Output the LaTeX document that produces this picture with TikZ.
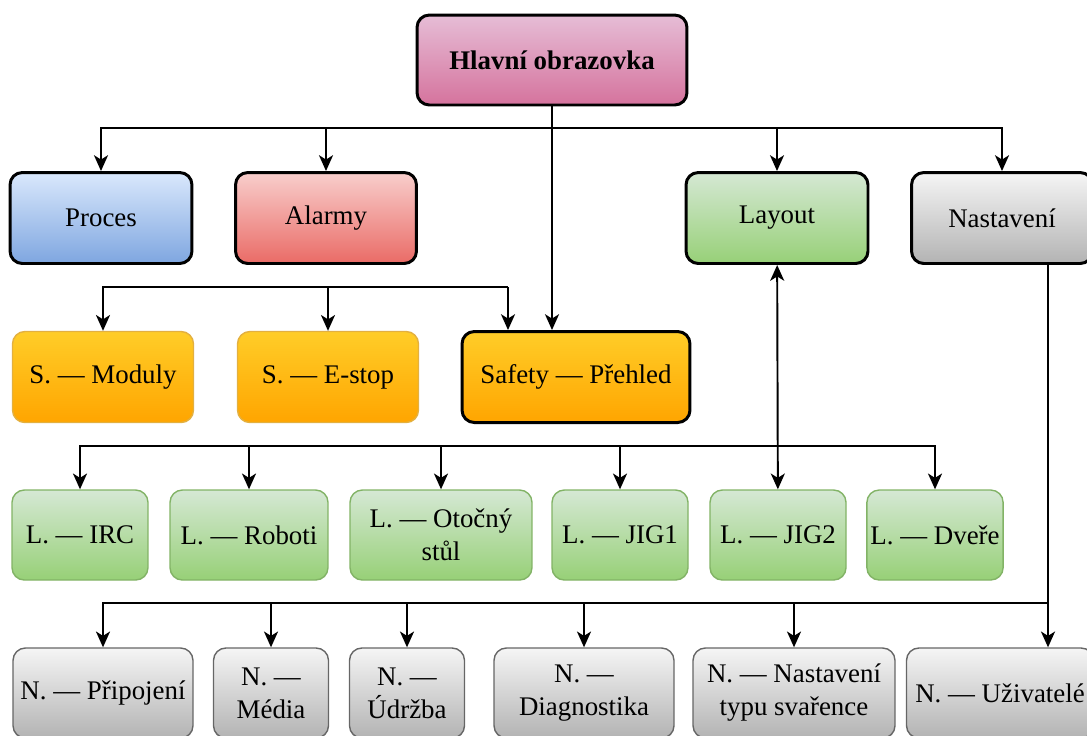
\documentclass[tikz,border=0pt]{standalone}
\usepackage{fontspec}
\setmainfont{Liberation Serif}
\usepackage{xcolor}
\usepackage{tikz}
\usetikzlibrary{arrows.meta,positioning}

\definecolor{pinkT}{HTML}{E6BDD6}
\definecolor{pinkB}{HTML}{D5739D}
\definecolor{blueT}{HTML}{DAE8FC}
\definecolor{blueB}{HTML}{7EA6E0}
\definecolor{redT}{HTML}{F8CECC}
\definecolor{redB}{HTML}{EA6B66}
\definecolor{greenT}{HTML}{D5E8D4}
\definecolor{greenB}{HTML}{97D077}
\definecolor{greenD}{HTML}{82B366}
\definecolor{grayT}{HTML}{F5F5F5}
\definecolor{grayB}{HTML}{B3B3B3}
\definecolor{grayD}{HTML}{666666}
\definecolor{orT}{HTML}{FFCD28}
\definecolor{orB}{HTML}{FFA500}
\definecolor{orD}{HTML}{E3B040}

\begin{document}
\begin{tikzpicture}[
  x=0.02cm, y=-0.02cm,
  font=\fontsize{15.3}{18.8}\selectfont,
  >={Stealth[length=9pt,width=8pt,inset=2.5pt]},
  box/.style={rectangle,rounded corners=7pt,align=center,inner sep=2pt,
    minimum height=1.8cm},
  thickbox/.style={box,draw=black,line width=1.7pt},
  mainbox/.style={thickbox,top color=pinkT,bottom color=pinkB,font=\fontsize{15.3}{18.8}\selectfont\bfseries},
  procbox/.style={thickbox,top color=blueT,bottom color=blueB},
  alarmbox/.style={thickbox,top color=redT,bottom color=redB},
  laybox/.style={box,draw=greenD,line width=0.8pt,top color=greenT,bottom color=greenB},
  setbox/.style={box,draw=grayD,line width=0.8pt,top color=grayT,bottom color=grayB},
  safebox/.style={box,draw=orD,line width=0.8pt,top color=orT,bottom color=orB},
  link/.style={->,line width=1.1pt},
]
\clip (0,0) rectangle (1087,735);

% hlavni obrazovka
\node [mainbox,minimum width=5.4cm] (main) at (552,60) {Hlavní obrazovka};

% prvni uroven
\node [procbox,minimum width=3.64cm,minimum height=1.82cm] (proc) at (101,218) {Proces};
\node [alarmbox,minimum width=3.62cm,minimum height=1.82cm] (alarm) at (326,218) {Alarmy};
\node [thickbox,top color=greenT,bottom color=greenB,minimum width=3.64cm,minimum height=1.82cm] (layout) at (777,218) {Layout};
\node [thickbox,top color=grayT,bottom color=grayB,minimum width=3.62cm,minimum height=1.82cm] (nast) at (1002,218) {Nastavení};

% safety
\node [safebox,minimum width=3.62cm,minimum height=1.82cm] (moduly) at (103,377) {S. — Moduly};
\node [safebox,minimum width=3.62cm,minimum height=1.82cm] (estop) at (328,377) {S. — E-stop};
\node [safebox,draw=black,line width=1.7pt,minimum width=4.56cm,minimum height=1.82cm] (safety) at (576,377) {Safety — Přehled};

% layout
\node [laybox,minimum width=2.72cm] (irc) at (80,535) {L. — IRC};
\node [laybox,minimum width=3.16cm] (roboti) at (249,535) {L. — Roboti};
\node [laybox,minimum width=3.64cm] (stul) at (441,535) {L. — Otočný\\stůl};
\node [laybox,minimum width=2.72cm] (jig1) at (620,535) {L. — JIG1};
\node [laybox,minimum width=2.72cm] (jig2) at (778,535) {L. — JIG2};
\node [laybox,minimum width=2.72cm] (dvere) at (935,535) {L. — Dveře};

% nastaveni
\node [setbox,minimum width=3.6cm] (pripoj) at (103,693) {N. — Připojení};
\node [setbox,minimum width=2.3cm] (media) at (271,693) {N. —\\Média};
\node [setbox,minimum width=2.3cm] (udrzba) at (407,693) {N. —\\Údržba};
\node [setbox,minimum width=3.6cm] (diag) at (584,693) {N. —\\Diagnostika};
\node [setbox,minimum width=4.04cm] (typ) at (794,693) {N. — Nastavení\\typu svařence};
\node [setbox,minimum width=3.74cm] (uziv) at (1000,693) {N. — Uživatelé};

% spoje
\coordinate (hub) at (552,128);
\coordinate (sbus) at (508,287);
\coordinate (lbus) at (778,446);
\coordinate (nbus) at (1048,603);

\draw [link] (main.south) -- (main.south |- safety.north);
\draw [link] (hub) -| (proc);
\draw [link] (hub) -| (alarm);
\draw [link] (hub) -| (layout);
\draw [link] (hub) -| (nast);

\draw [link] (sbus) -| (moduly);
\draw [link] (sbus) -| (estop);
\draw [link] (sbus) -- (sbus |- safety.north);

\draw [link,<->] (layout) -- (jig2);
\foreach \n in {irc,roboti,stul,jig1,dvere}
  \draw [link] (lbus) -| (\n);

\draw [link] (nast.south -| nbus) -- (nbus |- uziv.north);
\foreach \n in {pripoj,media,udrzba,diag,typ}
  \draw [link] (nbus) -| (\n);
\end{tikzpicture}
\end{document}
